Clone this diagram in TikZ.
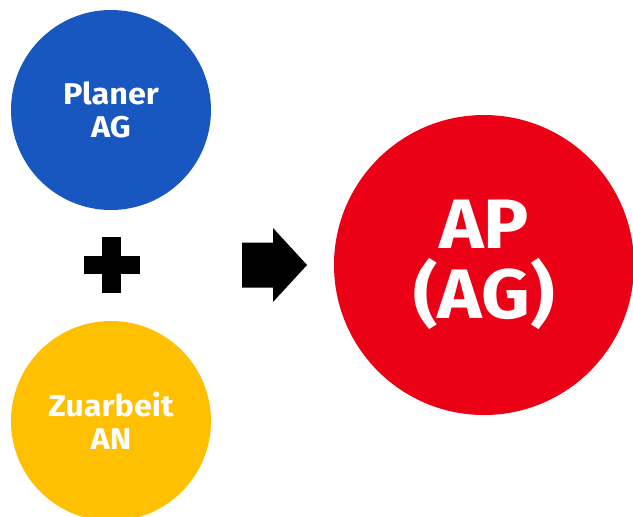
\documentclass[tikz,border=0pt]{standalone}
\usepackage{fontspec}
\setmainfont{Fira Sans}[FakeStretch=1.08]
\usetikzlibrary{shapes.arrows}
\definecolor{dbblue}{HTML}{1757BF}
\definecolor{dbyellow}{HTML}{FEC000}
\definecolor{dbred}{HTML}{EC0016}
\tikzset{
  ball/.style={circle, inner sep=0pt, align=center, text=white,
    font=\bfseries\fontsize{30}{33}\selectfont},
  bigball/.style={ball, font=\bfseries\fontsize{70}{70}\selectfont},
}
\begin{document}
\begin{tikzpicture}[x=1pt, y=-1pt]
  \useasboundingbox (0,0) rectangle (633,517);
  % input circles
  \node[ball, fill=dbblue, minimum size=200pt] (planer) at (111,110) {Planer\\AG};
  \node[ball, fill=dbyellow, minimum size=200pt] (zuarbeit) at (111,421) {Zuarbeit\\AN};
  % result circle
  \node[bigball, fill=dbred, minimum size=300pt] (ap) at (484,265) {AP\\(AG)};
  % plus sign between the inputs
  \coordinate (plus) at (111.5,265);
  \fill[black] ([shift={(-28,-9)}]plus) rectangle ([shift={(28,9)}]plus);
  \fill[black] ([shift={(-9.5,-28)}]plus) rectangle ([shift={(9.5,28)}]plus);
  % block arrow towards the result
  \coordinate (arr) at (242,265);
  \fill[black] (arr) ++(0,-22.5) -- ++(31,0) -- ++(0,-14.5) -- (307,265)
    -- (273,302) -- ++(0,-14.5) -- ++(-31,0) -- cycle;
\end{tikzpicture}
\end{document}
